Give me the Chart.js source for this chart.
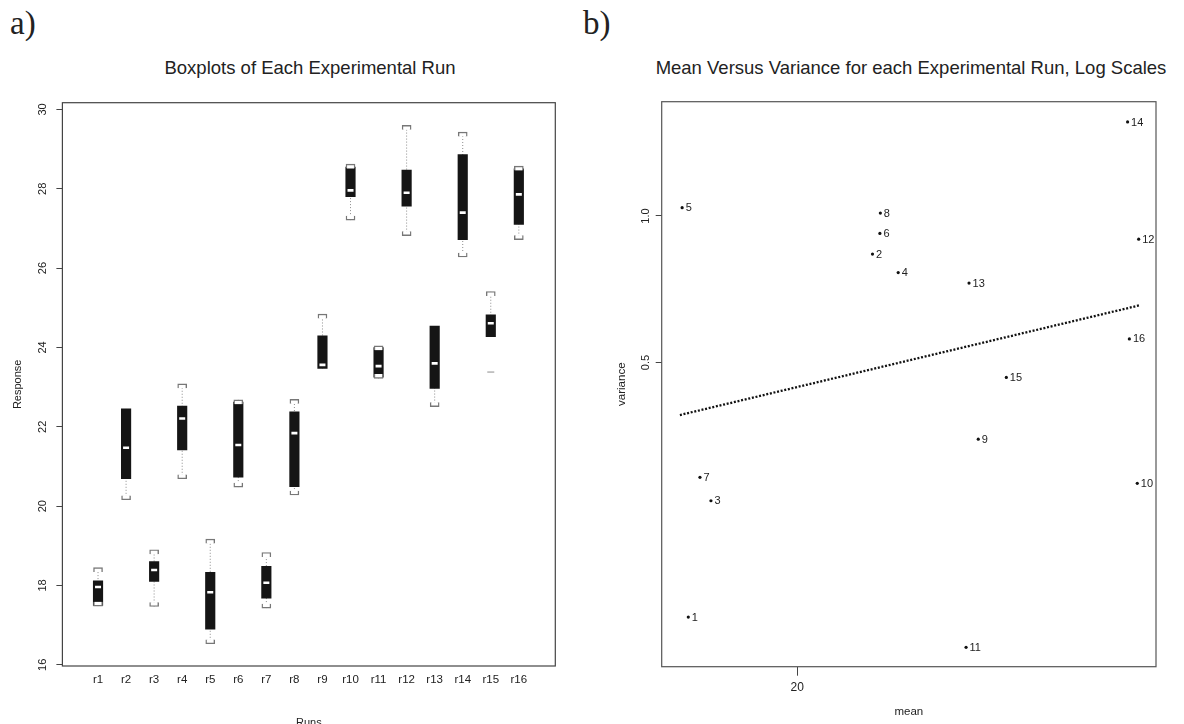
<!DOCTYPE html>
<html>
<head>
<meta charset="utf-8">
<script src="https://cdn.jsdelivr.net/npm/chart.js@4.4.0/dist/chart.umd.min.js"></script>
<style>
  body { margin:0; background:#fff; width:1184px; height:724px; overflow:hidden; position:relative; font-family:'Liberation Sans', Arial, sans-serif; color:#222; }
  canvas { position:absolute; top:0; }
  #boxCanvas { left:0; }
  #mvCanvas { left:592px; }
  .tag { position:absolute; top:7px; font-family:'Liberation Serif', 'DejaVu Serif', serif; font-size:33px; line-height:33px; color:#222; }
  .ttl { position:absolute; top:59px; font-size:18.5px; line-height:18.5px; white-space:nowrap; transform:translateX(-50%); color:#222; }
</style>
</head>
<body>
<div class="tag" style="left:10px">a)</div>
<div class="tag" style="left:583px">b)</div>
<div class="ttl" style="left:310px">Boxplots of Each Experimental Run</div>
<div class="ttl" style="left:911px">Mean Versus Variance for each Experimental Run, Log Scales</div>
<canvas id="boxCanvas" width="592" height="724"></canvas>
<canvas id="mvCanvas" width="592" height="724"></canvas>
<script>
// --- Data: boxplots (a) ---
const runLabels   = ['r1','r2','r3','r4','r5','r6','r7','r8','r9','r10','r11','r12','r13','r14','r15','r16'];
const whiskerLow  = [17.48, 20.16, 17.47, 20.69, 16.53, 20.48, 17.43, 20.28, 23.47, 27.21, 23.22, 26.82, 22.51, 26.28, 24.27, 26.72];
const boxLow      = [17.50, 20.69, 18.10, 21.42, 16.90, 20.73, 17.68, 20.49, 23.47, 27.80, 23.25, 27.56, 22.97, 26.72, 24.27, 27.10];
const medians     = [17.96, 21.47, 18.39, 22.21, 17.83, 21.54, 18.07, 21.84, 23.56, 27.96, 23.53, 27.90, 23.60, 27.40, 24.61, 27.86];
const boxHigh     = [18.12, 22.45, 18.60, 22.52, 18.33, 22.62, 18.48, 22.38, 24.29, 28.55, 24.00, 28.47, 24.54, 28.86, 24.82, 28.50];
const whiskerHigh = [18.45, 22.45, 18.90, 23.08, 19.17, 22.68, 18.83, 22.69, 24.84, 28.62, 24.04, 29.60, 24.54, 29.43, 25.41, 28.57];
const outlierRuns   = [15];
const outlierValues = [23.38];
const responseTicks = [16, 18, 20, 22, 24, 26, 28, 30];

// --- Data: mean vs variance (b) ---
const runIds        = ['1','2','3','4','5','6','7','8','9','10','11','12','13','14','15','16'];
const runMeans      = [17.94, 21.56, 18.35, 22.12, 17.83, 21.72, 18.15, 21.73, 23.96, 28.08, 23.67, 28.12, 23.74, 27.81, 24.64, 27.86];
const runVariances  = [0.150, 0.835, 0.260, 0.765, 1.040, 0.921, 0.2905, 1.014, 0.348, 0.2823, 0.130, 0.896, 0.728, 1.560, 0.466, 0.559];
const fitMeans      = [17.79, 28.17];
const fitVariances  = [0.390, 0.656];
const meanTicks     = [20];
const varianceTicks = [0.5, 1.0];

Chart.defaults.font.family = "'Liberation Sans', Arial, sans-serif";
Chart.defaults.color = '#222';
Chart.defaults.animation = false;

// box around the plotting region, like R's box()
const framePlugin = {
  id: 'frame',
  beforeDatasetsDraw(chart, args, opts) {
    const {ctx, chartArea: a} = chart;
    ctx.save();
    ctx.strokeStyle = opts.color || '#444';
    ctx.lineWidth = opts.width || 1.2;
    ctx.strokeRect(a.left, a.top, a.right - a.left, a.bottom - a.top);
    ctx.restore();
  }
};

// run number written to the right of each point
const pointLabels = {
  id: 'pointLabels',
  afterDatasetsDraw(chart) {
    const {ctx} = chart;
    const meta = chart.getDatasetMeta(0);
    ctx.save();
    ctx.font = "11px 'Liberation Sans', Arial, sans-serif";
    ctx.fillStyle = '#222';
    ctx.textAlign = 'left';
    ctx.textBaseline = 'middle';
    meta.data.forEach((pt, i) => ctx.fillText(runIds[i], pt.x + 3.5, pt.y + 0.5));
    ctx.restore();
  }
};

// --- Chart a ---
const runPos = runLabels.map((_, i) => i + 1);
const capSize = 0.11;

const whiskerData = [];
runPos.forEach((x, i) => {
  whiskerData.push({x, y: whiskerLow[i]}, {x, y: whiskerHigh[i]}, {x, y: null});
});

new Chart(document.getElementById('boxCanvas'), {
  type: 'bar',
  data: {
    datasets: [
      { type: 'line', order: 5, data: whiskerData, borderColor: '#8c8c8c', borderWidth: 1, borderDash: [1, 2],
        pointRadius: 0, spanGaps: false },
      { type: 'bar', order: 3, data: runPos.map((x, i) => ({x, y: [boxLow[i], boxHigh[i]]})),
        backgroundColor: '#151515', borderWidth: 0, barThickness: 9.5, grouped: false },
      { type: 'bar', order: 2, data: runPos.map((x, i) => ({x, y: whiskerHigh[i] > boxHigh[i] ? [whiskerHigh[i] - capSize, whiskerHigh[i]] : null})),
        backgroundColor: '#fff', borderColor: '#777', borderWidth: 1.4, borderSkipped: 'bottom', barThickness: 9, grouped: false },
      { type: 'bar', order: 2, data: runPos.map((x, i) => ({x, y: whiskerLow[i] < boxLow[i] ? [whiskerLow[i], whiskerLow[i] + capSize] : null})),
        backgroundColor: '#fff', borderColor: '#777', borderWidth: 1.4, borderSkipped: 'top', barThickness: 9, grouped: false },
      { type: 'line', order: 1, showLine: false, data: runPos.map((x, i) => ({x, y: medians[i]})),
        pointStyle: 'line', pointRadius: 3, pointBorderWidth: 2.6, pointBorderColor: '#fff' },
      { type: 'line', order: 1, showLine: false, data: outlierRuns.map((r, i) => ({x: r, y: outlierValues[i]})),
        pointStyle: 'line', pointRadius: 3.5, pointBorderWidth: 1, pointBorderColor: '#8c8c8c' }
    ]
  },
  options: {
    responsive: false,
    layout: { padding: { left: 0, top: 102.7, right: 36.7, bottom: 0 } },
    plugins: { legend: { display: false }, tooltip: { enabled: false }, frame: { color: '#444', width: 1.2 } },
    scales: {
      x: {
        type: 'linear', min: -0.27, max: 17.3, offset: false,
        grid: { drawOnChartArea: false, drawTicks: false },
        border: { display: false },
        afterBuildTicks: s => { s.ticks = runPos.map(v => ({value: v})); },
        afterFit: s => { s.height = 58; s.paddingLeft = 0; s.paddingRight = 0; },
        ticks: { autoSkip: false, maxRotation: 0, padding: 6.8, font: { size: 11.5 }, color: '#222',
                 callback: v => runLabels[v - 1] },
        title: { display: true, text: 'Runs', font: { size: 11 }, color: '#222', padding: { top: 0, bottom: -5.1 } }
      },
      y: {
        type: 'linear', min: 15.97, max: 30.17,
        grid: { drawOnChartArea: false, drawTicks: true, tickLength: 6, color: '#444' },
        border: { display: false },
        afterBuildTicks: s => { s.ticks = responseTicks.map(v => ({value: v})); },
        afterFit: s => { s.width = 62.4; s.paddingTop = 0; s.paddingBottom = 0; },
        ticks: { minRotation: 90, maxRotation: 90, crossAlign: 'center', padding: 7, font: { size: 11 }, color: '#222' },
        title: { display: true, text: 'Response', font: { size: 11 }, color: '#222', padding: { top: 11.7, bottom: 0 } }
      }
    }
  },
  plugins: [framePlugin]
});

// --- Chart b ---
new Chart(document.getElementById('mvCanvas'), {
  type: 'scatter',
  data: {
    datasets: [
      { data: runMeans.map((m, i) => ({x: m, y: runVariances[i]})), pointRadius: 1.6, pointBackgroundColor: '#111',
        pointBorderWidth: 0 },
      { type: 'line', data: fitMeans.map((m, i) => ({x: m, y: fitVariances[i]})), borderColor: '#111',
        borderWidth: 2.3, borderDash: [2, 1.7], pointRadius: 0 }
    ]
  },
  options: {
    responsive: false,
    layout: { padding: { left: 0, top: 101.7, right: 28, bottom: 0 } },
    plugins: { legend: { display: false }, tooltip: { enabled: false }, frame: { color: '#555', width: 1.2 } },
    scales: {
      x: {
        type: 'logarithmic', min: 17.47, max: 28.61,
        grid: { drawOnChartArea: false, drawTicks: true, tickLength: 9, color: '#444' },
        border: { display: false },
        afterBuildTicks: s => { s.ticks = meanTicks.map(v => ({value: v})); },
        afterFit: s => { s.height = 57.3; s.paddingLeft = 0; s.paddingRight = 0; },
        ticks: { autoSkip: false, maxRotation: 0, padding: 4.3, font: { size: 12 }, color: '#222', callback: v => String(v) },
        title: { display: true, text: 'mean', font: { size: 11.5 }, color: '#222', padding: { top: 0, bottom: 5.4 } }
      },
      y: {
        type: 'logarithmic', min: 0.1186, max: 1.717,
        grid: { drawOnChartArea: false, drawTicks: true, tickLength: 6, color: '#444' },
        border: { display: false },
        afterBuildTicks: s => { s.ticks = varianceTicks.map(v => ({value: v})); },
        afterFit: s => { s.width = 69.7; s.paddingTop = 0; s.paddingBottom = 0; },
        ticks: { minRotation: 90, maxRotation: 90, crossAlign: 'center', padding: 1.6, font: { size: 11 }, color: '#222',
                 callback: v => Number(v).toFixed(1) },
        title: { display: true, text: 'variance', font: { size: 11.5 }, color: '#222', padding: { top: 22.6, bottom: 0 } }
      }
    }
  },
  plugins: [framePlugin, pointLabels]
});
</script>
</body>
</html>
